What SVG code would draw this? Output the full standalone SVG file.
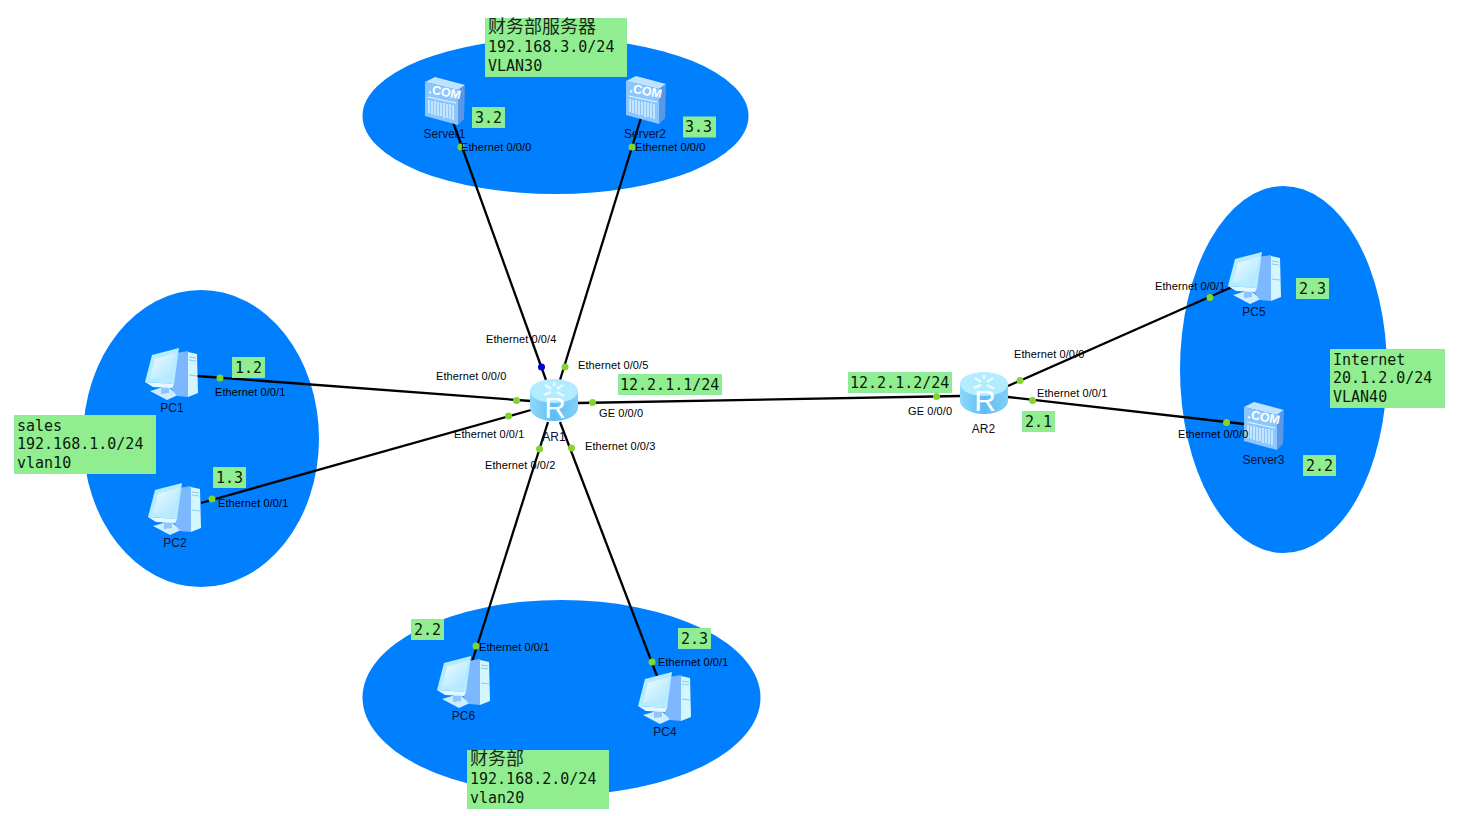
<svg xmlns="http://www.w3.org/2000/svg" xmlns:xlink="http://www.w3.org/1999/xlink" width="1460" height="816" viewBox="0 0 1460 816">
<style>
.zone{fill:#007fff}
.link{stroke:#000;stroke-width:2.3;fill:none}
.dot{fill:#82d52e}
.blue{fill:#0000d8}
.port{font:11px "Liberation Sans",Arial,sans-serif;fill:#000;letter-spacing:.09px}
.name{font:12px "Liberation Sans",Arial,sans-serif;fill:#101030;text-anchor:middle}
.box{fill:#90ee90;stroke:#8ee8a0;stroke-width:1}
.mono{font:15px "DejaVu Sans Mono","Liberation Mono","Noto Sans CJK SC",monospace;fill:#0a1a0a}
.cjk{font:18px "Noto Sans CJK SC","DejaVu Sans Mono",sans-serif;fill:#1a2a1a}
.com{font:bold 12.5px "Liberation Sans",Arial,sans-serif;fill:#fff}
.rt{font:30px "Liberation Sans",Arial,sans-serif;fill:#fff;text-anchor:middle}
</style>
<defs>
<linearGradient id="rb" x1="0" y1="0" x2="1" y2="0"><stop offset="0" stop-color="#8fd8fa"/><stop offset=".5" stop-color="#5fbdf5"/><stop offset="1" stop-color="#82d0f8"/></linearGradient>
<linearGradient id="sc" x1="0" y1="0" x2="1" y2="1"><stop offset="0" stop-color="#f0fdff"/><stop offset="1" stop-color="#a8e4ff"/></linearGradient>
<symbol id="pc" width="56" height="56" viewBox="0 0 56 56" overflow="visible">
<polygon points="5,43 22,38 33,47 22,52" fill="#cdeeff"/>
<polygon points="16,36 24,35 24,45 16,46" fill="#8ec4ff"/>
<polygon points="31,5 43,3 43,49 32,48 26,40" fill="#7db8ff"/>
<polygon points="43,4 52,6 53,45 43,49" fill="#d4f6ff"/>
<path d="M44,9 51,10M44,12 51,13M44,27 52,28" stroke="#8ccaf0" stroke-width="1"/>
<polygon points="7,7 34,0 29,36 0,34" fill="#b5ecff"/>
<polygon points="10,11 31,5 26,31 5,30" fill="url(#sc)"/>
<polygon points="0,34 29,36 27,40 8,39" fill="#e4f8ff"/>
</symbol>
<symbol id="server" width="42" height="50" viewBox="0 0 42 50" overflow="visible">
<polygon points="0,5 10,0 40,8 33,13" fill="#bfe2ff"/>
<polygon points="33,13 40,8 39,42 33,48" fill="#5a97e6"/>
<polygon points="0,5 33,13 33,48 0,39" fill="#8cc6ff"/>
<text class="com" transform="translate(3,16) rotate(11)">.COM</text>
<path d="M3,20 31,26" stroke="#e8f6ff" stroke-width="1" fill="none"/>
<path d="M4,23V36M7,24V37M10,24V38M13,25V39M16,26V39M19,26V41M22,27V41M25,27V42M28,28V43" stroke="#d8efff" stroke-width="1.5" fill="none"/>
</symbol>
<symbol id="router" width="48" height="42" viewBox="0 0 48 42" overflow="visible">
<path d="M0,12V29C0,36 11,42 24,42S48,36 48,29V12Z" fill="url(#rb)"/>
<ellipse cx="24" cy="12" rx="24" ry="12" fill="#b4ecff"/>
<path d="M15,6 21,10M33,6 27,10M14,16 21,13M34,17 27,13M24,3V7" stroke="#e8fbff" stroke-width="2.5" fill="none"/>
<text class="rt" x="25" y="39">R</text>
</symbol>
</defs>
<g id="zones">
<ellipse class="zone" cx="555.5" cy="116" rx="193" ry="78"/>
<ellipse class="zone" cx="201" cy="438.5" rx="118" ry="148.5"/>
<ellipse class="zone" cx="561.5" cy="697.5" rx="199" ry="97.5"/>
<ellipse class="zone" cx="1283.5" cy="369.5" rx="103.5" ry="183.5"/>
</g>
<g id="connectors">
<path class="link" d="M197,376 531,401"/>
<path class="link" d="M201,503 531,410"/>
<path class="link" d="M453,122 546,380"/>
<path class="link" d="M641,118 560,380"/>
<path class="link" d="M472,662 548,422"/>
<path class="link" d="M657,676 560,422"/>
<path class="link" d="M578,403 960,396"/>
<path class="link" d="M1008,386 1232,287"/>
<path class="link" d="M1008,397 1244,424"/>
</g>
<g id="PC1"><use href="#pc" x="145" y="348"/><text class="name" x="172" y="412">PC1</text></g>
<g id="PC2"><use href="#pc" x="148" y="483"/><text class="name" x="175" y="547">PC2</text></g>
<g id="PC6"><use href="#pc" x="437" y="656"/><text class="name" x="463.5" y="720">PC6</text></g>
<g id="PC4"><use href="#pc" x="638" y="672"/><text class="name" x="665" y="736">PC4</text></g>
<g id="PC5"><use href="#pc" x="1228" y="252"/><text class="name" x="1254" y="316">PC5</text></g>
<g id="Server1"><use href="#server" x="425" y="77"/><text class="name" x="444.5" y="138">Server1</text></g>
<g id="Server2"><use href="#server" x="626" y="76"/><text class="name" x="645" y="138">Server2</text></g>
<g id="Server3"><use href="#server" x="1244" y="402"/><text class="name" x="1263.5" y="464">Server3</text></g>
<g id="AR1"><use href="#router" x="530" y="379"/><text class="name" x="554" y="441">AR1</text></g>
<g id="AR2"><use href="#router" x="960" y="372"/><text class="name" x="983.5" y="433">AR2</text></g>
<g id="ports">
<circle class="dot" cx="220" cy="378" r="3.5"/><circle class="dot" cx="516.5" cy="400.5" r="3.5"/>
<circle class="dot" cx="212" cy="499" r="3.5"/><circle class="dot" cx="508.5" cy="416" r="3.5"/>
<circle class="dot" cx="461" cy="147" r="3.5"/><circle class="blue" cx="541.5" cy="367" r="3.5"/>
<circle class="dot" cx="632" cy="147" r="3.5"/><circle class="dot" cx="565" cy="367" r="3.5"/>
<circle class="dot" cx="476" cy="646" r="3.5"/><circle class="dot" cx="539.5" cy="449" r="3.5"/>
<circle class="dot" cx="652" cy="662" r="3.5"/><circle class="dot" cx="571.5" cy="448" r="3.5"/>
<circle class="dot" cx="592.5" cy="402.5" r="3.5"/><circle class="dot" cx="936.5" cy="396.5" r="3.5"/>
<circle class="dot" cx="1020" cy="380.5" r="3.5"/><circle class="dot" cx="1210" cy="297.5" r="3.5"/>
<circle class="dot" cx="1032.5" cy="400.5" r="3.5"/><circle class="dot" cx="1226.5" cy="422.5" r="3.5"/>
<text class="port" x="461" y="151">Ethernet 0/0/0</text>
<text class="port" x="635" y="151">Ethernet 0/0/0</text>
<text class="port" x="486" y="343">Ethernet 0/0/4</text>
<text class="port" x="578" y="369">Ethernet 0/0/5</text>
<text class="port" x="436" y="380">Ethernet 0/0/0</text>
<text class="port" x="599" y="417">GE 0/0/0</text>
<text class="port" x="454" y="438">Ethernet 0/0/1</text>
<text class="port" x="485" y="469">Ethernet 0/0/2</text>
<text class="port" x="585" y="450">Ethernet 0/0/3</text>
<text class="port" x="215" y="396">Ethernet 0/0/1</text>
<text class="port" x="218" y="507">Ethernet 0/0/1</text>
<text class="port" x="479" y="651">Ethernet 0/0/1</text>
<text class="port" x="658" y="666">Ethernet 0/0/1</text>
<text class="port" x="908" y="415">GE 0/0/0</text>
<text class="port" x="1014" y="358">Ethernet 0/0/0</text>
<text class="port" x="1037" y="397">Ethernet 0/0/1</text>
<text class="port" x="1155" y="290">Ethernet 0/0/1</text>
<text class="port" x="1178" y="438">Ethernet 0/0/0</text>
</g>
<g id="labels">
<rect class="box" x="485.5" y="18.5" width="141" height="58"/>
<text class="cjk" x="488" y="33">财务部服务器</text><text class="mono" x="488" y="52">192.168.3.0/24</text><text class="mono" x="488" y="71">VLAN30</text>
<rect class="box" x="14.5" y="415.5" width="141" height="58"/>
<text class="mono" x="17" y="431">sales</text><text class="mono" x="17" y="449">192.168.1.0/24</text><text class="mono" x="17" y="468">vlan10</text>
<rect class="box" x="1330.5" y="349.5" width="114" height="58"/>
<text class="mono" x="1333" y="365">Internet</text><text class="mono" x="1333" y="383">20.1.2.0/24</text><text class="mono" x="1333" y="402">VLAN40</text>
<rect class="box" x="467.5" y="750.5" width="141" height="58"/>
<text class="cjk" x="470" y="765">财务部</text><text class="mono" x="470" y="784">192.168.2.0/24</text><text class="mono" x="470" y="803">vlan20</text>
<rect class="box" x="472.5" y="107.5" width="32" height="20"/><text class="mono" x="475" y="123">3.2</text>
<rect class="box" x="683.5" y="117" width="32" height="20"/><text class="mono" x="685" y="132">3.3</text>
<rect class="box" x="232.5" y="357.5" width="32" height="20"/><text class="mono" x="235" y="373">1.2</text>
<rect class="box" x="213.5" y="467.5" width="32" height="20"/><text class="mono" x="216" y="483">1.3</text>
<rect class="box" x="618.5" y="374.5" width="103" height="20"/><text class="mono" x="620" y="390">12.2.1.1/24</text>
<rect class="box" x="848.5" y="372.5" width="103" height="20"/><text class="mono" x="850" y="388">12.2.1.2/24</text>
<rect class="box" x="1022.5" y="411.5" width="32" height="20"/><text class="mono" x="1025" y="427">2.1</text>
<rect class="box" x="1296.5" y="278.5" width="32" height="20"/><text class="mono" x="1299" y="294">2.3</text>
<rect class="box" x="1303.5" y="455.5" width="32" height="20"/><text class="mono" x="1306" y="471">2.2</text>
<rect class="box" x="411.5" y="619.5" width="32" height="20"/><text class="mono" x="414" y="635">2.2</text>
<rect class="box" x="678.5" y="628.5" width="32" height="20"/><text class="mono" x="681" y="644">2.3</text>
</g>
</svg>
